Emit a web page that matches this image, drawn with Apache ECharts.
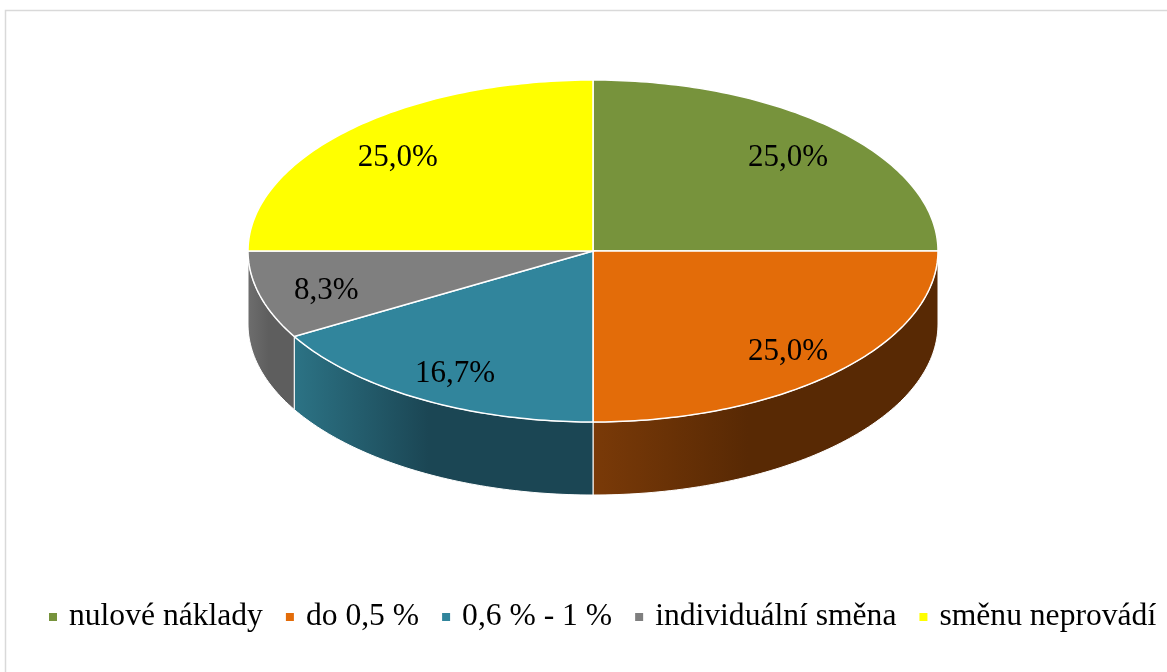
<!DOCTYPE html>
<html>
<head>
<meta charset="utf-8">
<script src="https://cdn.jsdelivr.net/npm/echarts@6/dist/echarts.min.js"></script>
<style>
  html, body { margin: 0; padding: 0; background: #fff; }
  #chart { width: 1167px; height: 672px; }
</style>
</head>
<body>
<div id="chart"></div>
<script>
// pocty odpovedi (12 firem)
const categories = ["nulové náklady", "do 0,5 %", "0,6 % - 1 %", "individuální směna", "směnu neprovádí"];
const values = [3, 3, 2, 1, 3];
const topColors = ["#77933C", "#E36C09", "#31859C", "#7F7F7F", "#FFFF00"];
const sideColors = [
  ["#4f6226", "#4f6226"],
  ["#7a3a08", "#582904"],
  ["#2c7385", "#1b4654"],
  ["#6e6e6e", "#5e5e5e"],
  ["#a8a800", "#a8a800"]
];

const total = values.reduce((a, b) => a + b, 0);

// geometrie "3D" kolace
const cx = 593, cy = 251, rx = 345, ry = 171, depth = 73;

function pt(deg, dy) {
  const r = deg * Math.PI / 180;
  return [cx + rx * Math.sin(r), cy - ry * Math.cos(r) + (dy || 0)];
}

function arcPoints(a1, a2, dy) {
  const pts = [];
  const steps = Math.max(2, Math.ceil(Math.abs(a2 - a1)));
  for (let k = 0; k <= steps; k++) {
    pts.push(pt(a1 + (a2 - a1) * k / steps, dy));
  }
  return pts;
}

function fmt(v) {
  return (v / total * 100).toFixed(1).replace(".", ",") + "%";
}

function makeRender(i) {
  return function (params, api) {
    const v = api.value(0);
    let start = 0;
    for (let j = 0; j < i; j++) start += values[j] / total * 360;
    const end = start + v / total * 360;
    const children = [];

    // bocni stena (jen predni polovina)
    const w1 = Math.max(start, 90), w2 = Math.min(end, 270);
    if (w2 > w1) {
      const upper = arcPoints(w1, w2, 0);
      const lower = arcPoints(w2, w1, depth);
      children.push({
        type: "polygon",
        shape: { points: upper.concat(lower) },
        style: {
          fill: new echarts.graphic.LinearGradient(0, 0, 1, 0, [
            { offset: 0, color: sideColors[i][0] },
            { offset: 0.45, color: sideColors[i][1] },
            { offset: 1, color: sideColors[i][1] }
          ]),
          stroke: "#ffffff",
          lineWidth: 1
        }
      });
    }

    // horni plocha
    children.push({
      type: "polygon",
      shape: { points: [[cx, cy]].concat(arcPoints(start, end, 0)) },
      style: { fill: topColors[i], stroke: "#ffffff", lineWidth: 1.5 }
    });

    const mid = (start + end) / 2;
    const lr = mid * Math.PI / 180;
    children.push({
      type: "text",
      x: cx + 0.8 * rx * Math.sin(lr),
      y: cy - 0.8 * ry * Math.cos(lr) + 4,
      style: {
        text: fmt(v),
        fill: "#000",
        font: "31px 'Liberation Serif'",
        align: "center",
        verticalAlign: "middle"
      }
    });

    return { type: "group", children: children };
  };
}

const chart = echarts.init(document.getElementById("chart"));

const series = categories.map((name, i) => ({
  name: name,
  type: "custom",
  coordinateSystem: "none",
  itemStyle: { color: topColors[i] },
  renderItem: makeRender(i),
  data: [[values[i]]],
  z: 2
}));

chart.setOption({
  animation: false,
  graphic: [
    {
      type: "rect",
      shape: { x: 5.5, y: 10.5, width: 1300, height: 800 },
      style: { fill: "none", stroke: "#d9d9d9", lineWidth: 1.5 },
      z: 0
    }
  ],
  legend: {
    left: 44,
    top: 596,
    icon: "rect",
    itemWidth: 8,
    itemHeight: 8,
    itemGap: 23,
    selectedMode: false,
    textStyle: {
      fontFamily: "Liberation Serif",
      fontSize: 31.6,
      color: "#000",
      padding: [0, 0, 0, 7]
    },
    data: categories
  },
  series: series
});
</script>
</body>
</html>
